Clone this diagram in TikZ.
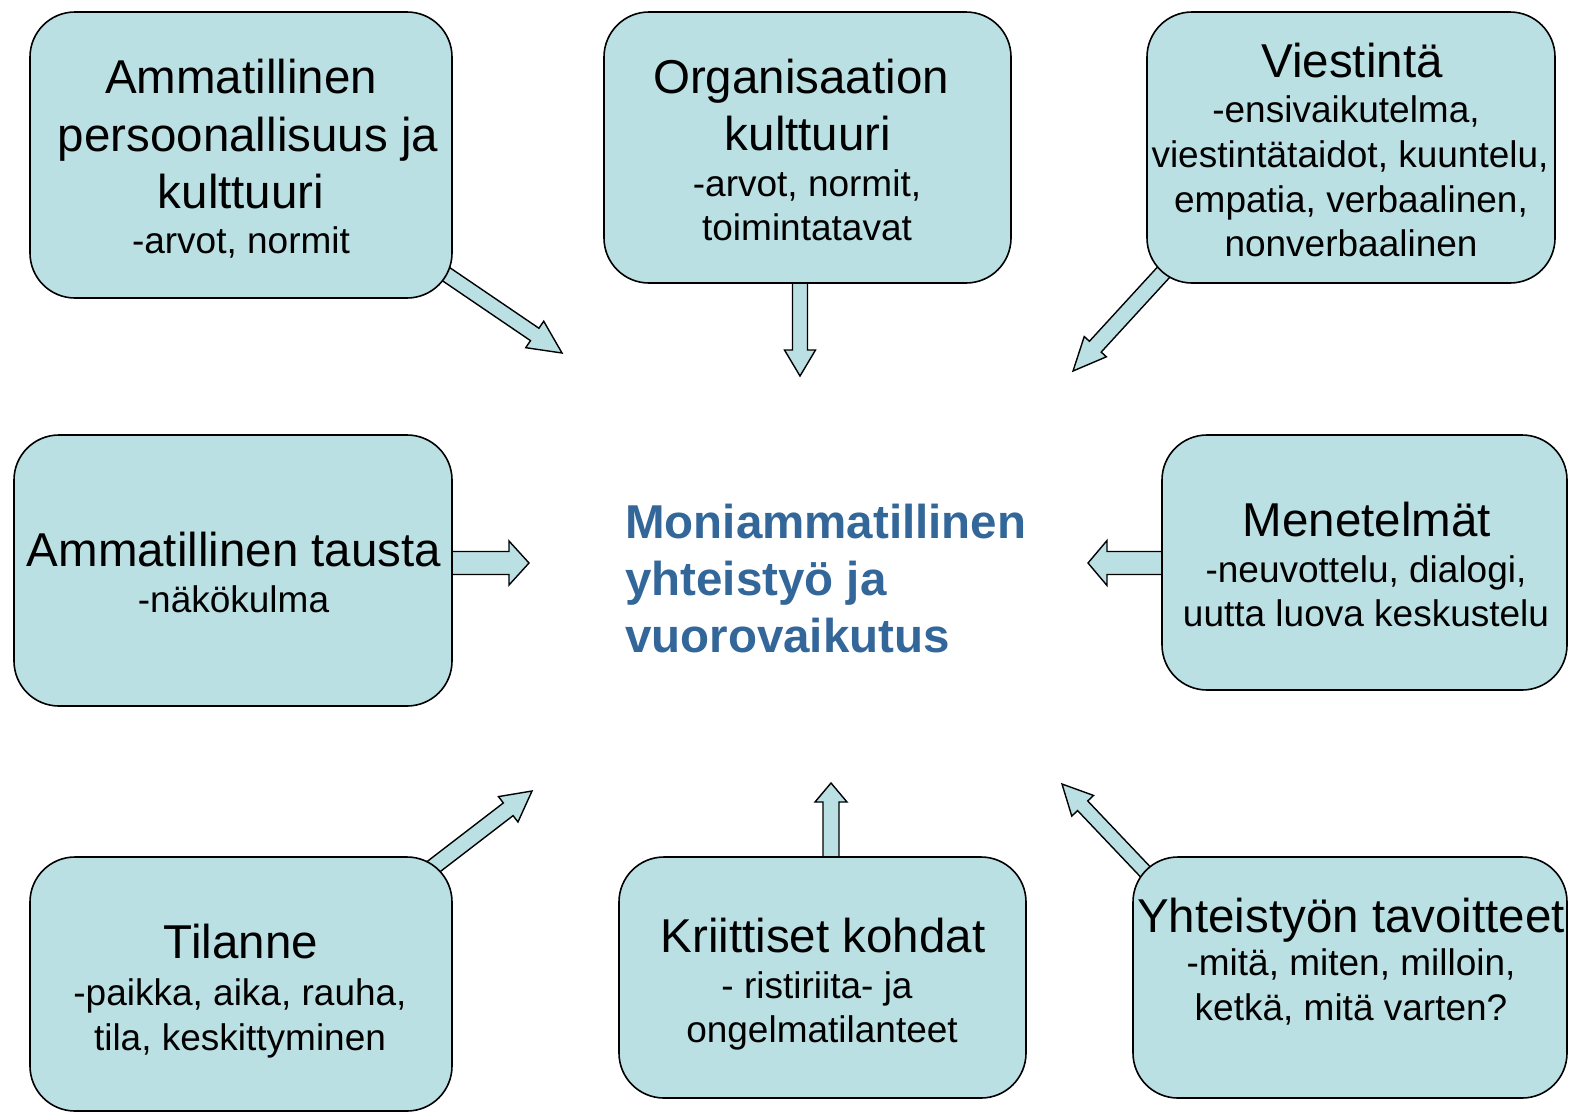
\documentclass[tikz,border=0pt]{standalone}
\usepackage{fontspec}
\setmainfont{Liberation Sans}
\usetikzlibrary{calc}
\definecolor{boxfill}{RGB}{187,224,227}
\definecolor{titleblue}{RGB}{51,102,153}
\tikzset{
  box/.style={draw=black, line width=1.6pt, fill=boxfill, rounded corners=45pt, inner sep=0pt},
  blockarrow/.style={draw=black, line width=1.4pt, fill=boxfill, line join=miter},
  big/.style={font=\fontsize{47.5}{57}\selectfont, anchor=base, inner sep=0pt},
  small/.style={font=\fontsize{37}{45}\selectfont, anchor=base, inner sep=0pt},
  ctitle/.style={font=\fontsize{47.5}{57}\selectfont\bfseries, text=titleblue, anchor=base west, inner sep=0pt},
}
\newcommand\blockarr[5]{%
  \coordinate (ba-h) at ($(#2)!#5!(#1)$);
  \draw[blockarrow] ($(#1)!#3!90:(#2)$) -- ($(ba-h)!#3!90:(#2)$) -- ($(ba-h)!#4!90:(#2)$) -- (#2)
    -- ($(ba-h)!#4!-90:(#2)$) -- ($(ba-h)!#3!-90:(#2)$) -- ($(#1)!#3!-90:(#2)$) -- cycle;}
\begin{document}
\begin{tikzpicture}[x=1pt,y=-1pt]
\useasboundingbox (0,0) rectangle (1570,1114);

% arrow end points
\coordinate (a1s) at (437,268);  \coordinate (a1e) at (562,353);
\coordinate (a2s) at (800,270);  \coordinate (a2e) at (800,376);
\coordinate (a3s) at (1172,263); \coordinate (a3e) at (1073,371);
\coordinate (a4s) at (440,563);  \coordinate (a4e) at (529,563);
\coordinate (a5s) at (1175,563); \coordinate (a5e) at (1088,563);
\coordinate (a6s) at (424,874);  \coordinate (a6e) at (532,791);
\coordinate (a7s) at (831,870);  \coordinate (a7e) at (831,783);
\coordinate (a8s) at (1155,882); \coordinate (a8e) at (1062,784);

\blockarr{a1s}{a1e}{7.5pt}{16pt}{33pt}
\blockarr{a2s}{a2e}{7.5pt}{15.5pt}{26pt}
\blockarr{a3s}{a3e}{8pt}{15pt}{33pt}
\blockarr{a4s}{a4e}{11.5pt}{22pt}{20pt}
\blockarr{a5s}{a5e}{11.5pt}{22.5pt}{19pt}
\blockarr{a6s}{a6e}{8pt}{16pt}{30pt}
\blockarr{a7s}{a7e}{8pt}{16pt}{19pt}
\blockarr{a8s}{a8e}{7pt}{15pt}{30pt}

% boxes
\node[box, minimum width=422pt, minimum height=286pt] (b1) at (241,155) {};
\node[box, minimum width=407pt, minimum height=271pt] (b2) at (807.5,147.5) {};
\node[box, minimum width=408pt, minimum height=271pt] (b3) at (1351,147.5) {};
\node[box, minimum width=438pt, minimum height=271pt] (b4) at (233,570.5) {};
\node[box, minimum width=405pt, minimum height=255pt] (b5) at (1364.5,562.5) {};
\node[box, minimum width=422pt, minimum height=254pt] (b6) at (241,984) {};
\node[box, minimum width=407pt, minimum height=241pt] (b7) at (822.5,977.5) {};
\node[box, minimum width=434pt, minimum height=241pt] (b8) at (1350,977.5) {};

% box texts
\node[big] (t1a) at (241,93) {Ammatillinen};
\node[big] (t1b) at (248,151) {persoonallisuus ja};
\node[big] (t1c) at (241,208) {kulttuuri};
\node[small] (t1d) at (241,253) {-arvot, normit};

\node[big] (t2a) at (801,93) {Organisaation};
\node[big] (t2b) at (808,150) {kulttuuri};
\node[small] (t2c) at (807,196) {-arvot, normit,};
\node[small] (t2d) at (807,240) {toimintatavat};

\node[big] (t3a) at (1352,77) {Viestintä};
\node[small] (t3b) at (1346,122) {-ensivaikutelma,};
\node[small] (t3c) at (1350,167) {viestintätaidot, kuuntelu,};
\node[small] (t3d) at (1351,212) {empatia, verbaalinen,};
\node[small] (t3e) at (1351,256) {nonverbaalinen};

\node[big] (t4a) at (234,566) {Ammatillinen tausta};
\node[small] (t4b) at (233.5,612) {-näkökulma};

\node[big] (t5a) at (1367,536) {Menetelmät};
\node[small] (t5b) at (1366,582) {-neuvottelu, dialogi,};
\node[small] (t5c) at (1366,626) {uutta luova keskustelu};

\node[big] (t6a) at (241,958) {Tilanne};
\node[small] (t6b) at (240,1005) {-paikka, aika, rauha,};
\node[small] (t6c) at (240,1050) {tila, keskittyminen};

\node[big] (t7a) at (823,952) {Kriittiset kohdat};
\node[small] (t7b) at (817,998) {- ristiriita- ja};
\node[small] (t7c) at (822,1042) {ongelmatilanteet};

\node[big] (t8a) at (1351,932) {Yhteistyön tavoitteet};
\node[small] (t8b) at (1351,975) {-mitä, miten, milloin,};
\node[small] (t8c) at (1351,1020) {ketkä, mitä varten?};

% centre title
\node[ctitle] (c1) at (625,538) {Moniammatillinen};
\node[ctitle] (c2) at (625,595) {yhteistyö ja};
\node[ctitle] (c3) at (625,652) {vuorovaikutus};
\end{tikzpicture}
\end{document}
